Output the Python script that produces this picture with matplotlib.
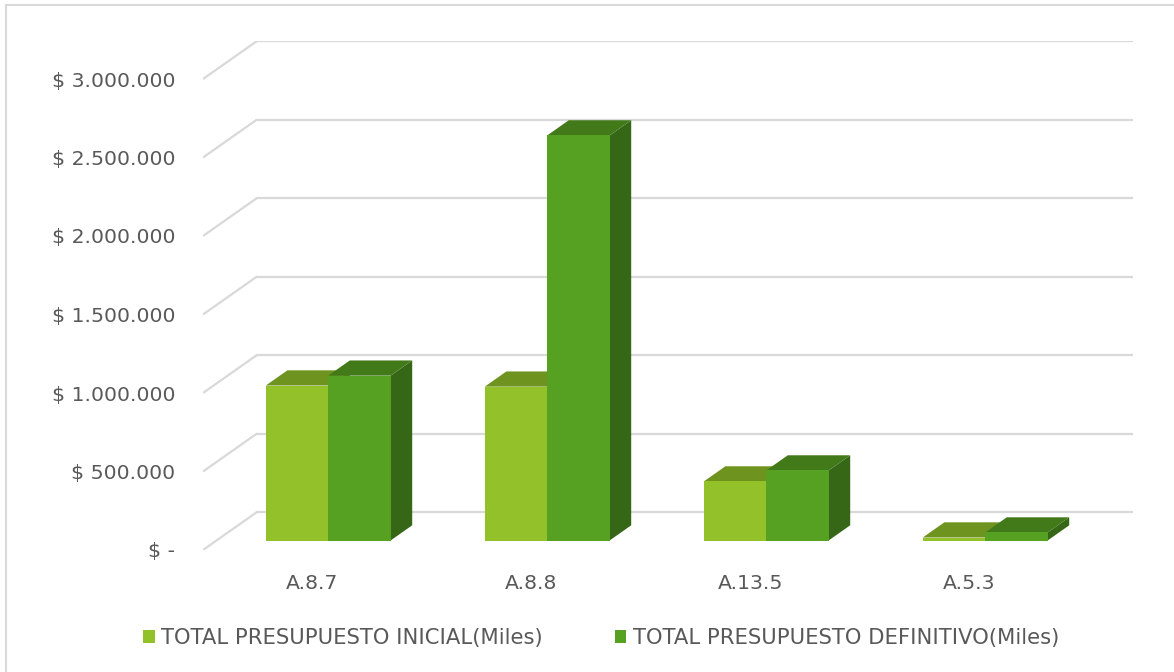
import matplotlib
matplotlib.use('Agg')
import matplotlib.pyplot as plt
from matplotlib.patches import Polygon, Patch
from matplotlib.lines import Line2D

# data (miles de pesos)
categories = ['A.8.7', 'A.8.8', 'A.13.5', 'A.5.3']
inicial = [987000, 980000, 376000, 19000]
definitivo = [1050000, 2580000, 446000, 51000]
series_names = ['TOTAL PRESUPUESTO INICIAL(Miles)', 'TOTAL PRESUPUESTO DEFINITIVO(Miles)']
yticks = [0, 500000, 1000000, 1500000, 2000000, 2500000, 3000000]
ytick_labels = ['$ -', '$ 500.000', '$ 1.000.000', '$ 1.500.000',
                '$ 2.000.000', '$ 2.500.000', '$ 3.000.000']

# colours: front, top, side
col_ini = ('#92C12A', '#6E941F', '#5E7F1A')
col_def = ('#56A022', '#427A1A', '#356717')
grid_col = '#D9D9D9'
text_col = '#595959'

# fake 3d: depth of the floor in data units
DX = 54 / 219.0
DY = 38 / 78.5 * 500000
d0, dd = 0.25, 0.40      # bar front depth and bar depth (fraction of floor)
bw = 0.285               # bar width in category units

fig = plt.figure(figsize=(11.74, 6.72), dpi=100)
ax = fig.add_axes([203 / 1174, (672 - 550) / 672, 930 / 1174, 509 / 672])
ax.set_xlim(0, len(categories) + DX)
ax.set_ylim(0, 3000000 + DY)

# gridlines: diagonal on the left wall + horizontal on the back wall
for v in yticks:
    ax.plot([0, DX], [v, v + DY], color=grid_col, lw=1.6, zorder=1, solid_capstyle='butt')
    ax.plot([DX, len(categories) + DX], [v + DY, v + DY], color=grid_col, lw=1.6, zorder=1)


def bar3d(x0, h, cols):
    bx = x0 + d0 * DX
    by = d0 * DY
    ex, ey = dd * DX, dd * DY
    side = [(bx + bw, by), (bx + bw + ex, by + ey), (bx + bw + ex, by + h + ey), (bx + bw, by + h)]
    top = [(bx, by + h), (bx + ex, by + h + ey), (bx + bw + ex, by + h + ey), (bx + bw, by + h)]
    front = [(bx, by), (bx + bw, by), (bx + bw, by + h), (bx, by + h)]
    ax.add_patch(Polygon(side, closed=True, fc=cols[2], ec='none', zorder=3))
    ax.add_patch(Polygon(top, closed=True, fc=cols[1], ec='none', zorder=3))
    ax.add_patch(Polygon(front, closed=True, fc=cols[0], ec='none', zorder=3))


for i in range(len(categories)):
    c = i + 0.51
    bar3d(c - bw, inicial[i], col_ini)
    bar3d(c, definitivo[i], col_def)

for s in ax.spines.values():
    s.set_visible(False)
ax.set_yticks(yticks)
ax.set_yticklabels(ytick_labels)
ax.set_xticks([i + 0.5 for i in range(len(categories))])
ax.set_xticklabels(categories)
ax.tick_params(axis='y', length=0, pad=20, labelsize=14.7, labelcolor=text_col)
ax.tick_params(axis='x', length=0, pad=17, labelsize=14.7, labelcolor=text_col)

handles = [Patch(fc=col_ini[0]), Patch(fc=col_def[0])]
fig.legend(handles, series_names, loc='center', bbox_to_anchor=(601 / 1174, 1 - 638 / 672),
           ncol=2, frameon=False, fontsize=15.2, labelcolor=text_col,
           handlelength=0.55, handleheight=0.55, handletextpad=0.3, columnspacing=3.4)

# chart area border (top and left visible)
fig.add_artist(Line2D([5.5 / 1174, 1], [1 - 5 / 672, 1 - 5 / 672], color='#D9D9D9', lw=1.5))
fig.add_artist(Line2D([5.5 / 1174, 5.5 / 1174], [0, 1 - 5 / 672], color='#D9D9D9', lw=1.5))

fig.savefig('out.png', dpi=100, facecolor='white')
